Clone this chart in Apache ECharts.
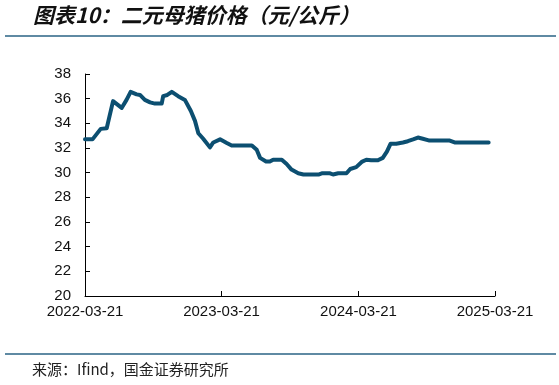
<!DOCTYPE html>
<html>
<head>
<meta charset="utf-8">
<script src="https://cdn.jsdelivr.net/npm/echarts@6/dist/echarts.min.js"></script>
<style>
html,body{margin:0;padding:0;background:#fff;}
#c{width:559px;height:385px;}
</style>
</head>
<body>
<div id="c"></div>
<script>
var titleText = '图表10：二元母猪价格（元/公斤）';
var sourceText = '来源：Ifind，国金证券研究所';
var dates = [
 '2022-03-21','2022-04-10','2022-05-02','2022-05-18','2022-06-04','2022-06-27','2022-07-10','2022-07-21',
 '2022-08-06','2022-08-15','2022-08-28','2022-09-11','2022-09-24','2022-10-12','2022-10-16','2022-10-27',
 '2022-11-08','2022-11-25','2022-12-13','2022-12-29','2023-01-09','2023-01-18','2023-01-31','2023-02-18',
 '2023-02-27','2023-03-17','2023-04-04','2023-04-17','2023-06-10','2023-06-23','2023-07-02','2023-07-18',
 '2023-07-28','2023-08-06','2023-08-29','2023-09-11','2023-09-24','2023-10-12','2023-10-26','2023-12-05',
 '2023-12-14','2024-01-05','2024-01-13','2024-01-27','2024-02-18','2024-02-28','2024-03-15','2024-03-31',
 '2024-04-11','2024-04-24','2024-05-12','2024-05-25','2024-06-05','2024-06-15','2024-06-30','2024-07-18',
 '2024-07-31','2024-08-14','2024-08-27','2024-09-09','2024-09-27','2024-11-20','2024-12-03','2025-03-04'
];
var prices = [
 32.7,32.7,33.55,33.6,35.8,35.25,35.9,36.55,
 36.35,36.3,35.9,35.7,35.6,35.6,36.2,36.3,
 36.55,36.2,35.9,35.0,34.2,33.2,32.75,32.05,
 32.45,32.7,32.4,32.2,32.2,31.85,31.2,30.9,
 30.9,31.05,31.05,30.7,30.25,29.95,29.85,29.85,
 29.95,29.95,29.85,29.95,29.95,30.3,30.45,30.9,
 31.05,31.0,31.0,31.2,31.7,32.35,32.35,32.45,
 32.55,32.7,32.85,32.75,32.6,32.6,32.45,32.45
];
var xTickLabels = ['2022-03-21','2023-03-21','2024-03-21','2025-03-21'];
var yMin = 20, yMax = 38, yStep = 2;

var DAY = 86400000;
function toDay(s){var p=s.split('-');return Math.round(Date.UTC(+p[0],+p[1]-1,+p[2])/DAY);}
function pad(n){return (n<10?'0':'')+n;}
function fmt(v){var d=new Date(Math.round(v)*DAY);return d.getUTCFullYear()+'-'+pad(d.getUTCMonth()+1)+'-'+pad(d.getUTCDate());}

var xTicks = xTickLabels.map(toDay);
var seriesData = dates.map(function(d,i){return [toDay(d), prices[i]];});

var chart = echarts.init(document.getElementById('c'), null, {renderer:'canvas'});
chart.setOption({
  animation:false,
  backgroundColor:'#fff',
  grid:{left:85,right:64,top:74,bottom:89,containLabel:false},
  xAxis:{
    type:'value',
    min:xTicks[0], max:xTicks[xTicks.length-1],
    splitLine:{show:false},
    axisLine:{lineStyle:{color:'#000',width:1}},
    axisTick:{show:true,inside:true,length:5,lineStyle:{color:'#000'},customValues:xTicks},
    axisLabel:{color:'#111',fontFamily:'Liberation Sans, Arial, sans-serif',fontSize:15,margin:8,
      customValues:xTicks, formatter:function(v){return fmt(v);}}
  },
  yAxis:{
    type:'value',min:yMin,max:yMax,interval:yStep,
    splitLine:{show:false},
    axisLine:{show:true,lineStyle:{color:'#000',width:1}},
    axisTick:{show:true,inside:true,length:5,lineStyle:{color:'#000'}},
    axisLabel:{color:'#111',fontFamily:'Liberation Sans, Arial, sans-serif',fontSize:15,margin:14}
  },
  series:[{
    type:'line',data:seriesData,showSymbol:false,symbol:'none',
    lineStyle:{color:'#0c4f71',width:4,join:'round',cap:'round'},
    itemStyle:{color:'#0c4f71'}
  }],
  graphic:[
    {type:'text',left:33,top:5,style:{text:titleText,fill:'#111',font:'italic bold 21px "Noto Sans CJK SC", sans-serif'}},
    {type:'line',shape:{x1:5,y1:36,x2:556,y2:36},style:{stroke:'#2a6384',lineWidth:1.5}},
    {type:'line',shape:{x1:5,y1:354,x2:556,y2:354},style:{stroke:'#2a6384',lineWidth:1.5}},
    {type:'text',left:32,top:362,style:{text:sourceText,fill:'#222',font:'15px "Noto Sans CJK SC", sans-serif'}}
  ]
});
</script>
</body>
</html>
